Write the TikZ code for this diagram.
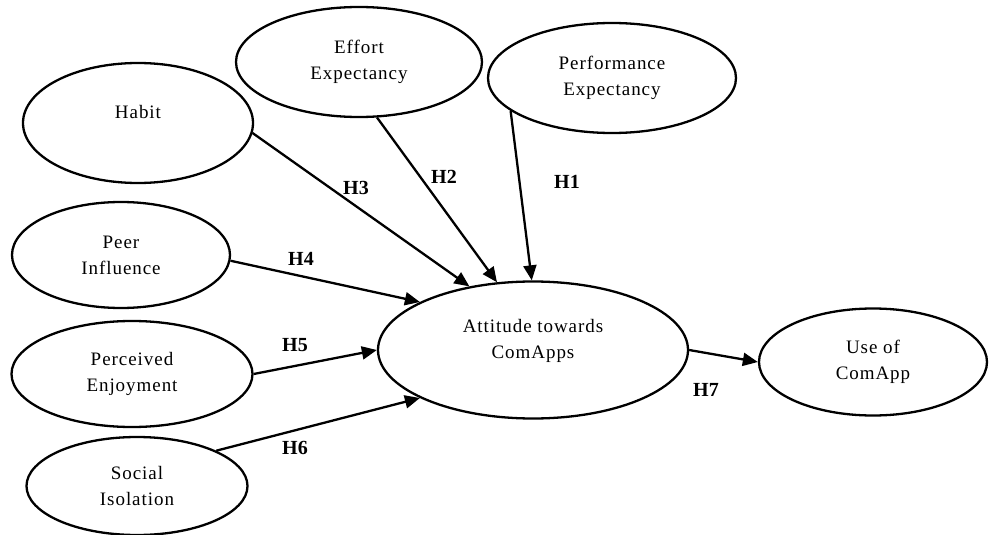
\documentclass[tikz,border=0pt]{standalone}
\usepackage{fontspec}
\setmainfont{Liberation Serif}
\usetikzlibrary{shapes.geometric,arrows.meta}
\begin{document}
\begin{tikzpicture}[x=1pt,y=-1pt,line width=2.3pt,
		construct/.style={ellipse,draw,inner sep=0pt,align=center,
			font=\fontsize{19}{26}\selectfont\addfontfeature{LetterSpace=5}},
		hyp/.style={font=\fontsize{20}{24}\selectfont\bfseries},
		>={Triangle[length=15pt,width=13pt]}]
	\useasboundingbox (0,0) rectangle (989,535);
	\node[construct,minimum width=246,minimum height=110] (eff) at (359,62) {Effort\\Expectancy};
	\node[construct,minimum width=248,minimum height=110] (perf) at (612,78) {Performance\\Expectancy};
	\node[construct,minimum width=230,minimum height=120] (habit) at (138,123) {\raisebox{11pt}[\height][\depth]{Habit}};
	\node[construct,minimum width=218,minimum height=106] (peer) at (121,255) {Peer\\Influence};
	\node[construct,minimum width=241,minimum height=106] (enjoy) at (132,374) {Perceived\\Enjoyment};
	\node[construct,minimum width=221,minimum height=98] (social) at (137,486) {Social\\Isolation};
	\node[construct,minimum width=310,minimum height=137] (att) at (533,350)
		{\raisebox{10pt}[\height][\depth]{\begin{tabular}{@{}c@{}}Attitude towards\\ComApps\end{tabular}}};
	\node[construct,minimum width=228,minimum height=107] (use) at (873,362) {Use of\\ComApp};
	\foreach \from/\to in {perf.198/att.91,eff.288/att.118,habit.355/att.135,peer.357/att.157,
			enjoy.0/att.180,social.24/att.203,att.0/use.180}
		\draw[->] (\from) -- (\to);
	\draw (567,182) node[hyp] {H1}; \draw (444,177) node[hyp] {H2}; \draw (356,188) node[hyp] {H3};
	\draw (301,259) node[hyp] {H4}; \draw (295,345) node[hyp] {H5}; \draw (295,448) node[hyp] {H6};
	\draw (706,390) node[hyp] {H7};
\end{tikzpicture}
\end{document}
